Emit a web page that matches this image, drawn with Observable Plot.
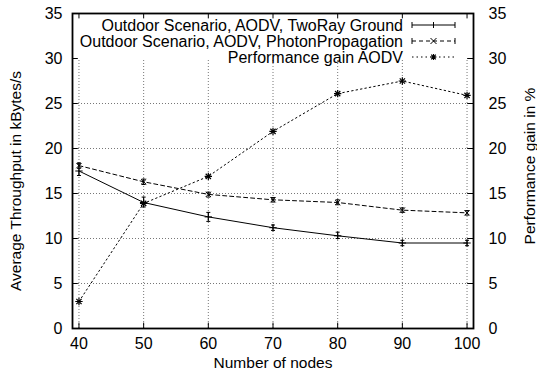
<!DOCTYPE html>
<html><head><meta charset="utf-8">
<script src="https://cdn.jsdelivr.net/npm/d3@7"></script>
<script src="https://cdn.jsdelivr.net/npm/@observablehq/plot@0.6"></script>
<style>
body{margin:0;background:#fff;}
#chart svg{font-family:"Liberation Sans",Arial,Helvetica,sans-serif;}
</style>
</head><body><div id="chart"></div>
<script>
const nodes = [40, 50, 60, 70, 80, 90, 100];
const twoRay = [17.5, 14.0, 12.4, 11.2, 10.3, 9.5, 9.5];
const twoRayLow = [17.0, 13.5, 11.9, 10.9, 10.0, 9.2, 9.2];
const twoRayHigh = [18.3, 14.6, 12.9, 11.5, 10.7, 9.8, 9.8];
const photon = [18.1, 16.3, 14.9, 14.3, 14.0, 13.15, 12.85];
const photonLow = [17.8, 16.0, 14.6, 14.05, 13.75, 12.9, 12.6];
const photonHigh = [18.4, 16.6, 15.15, 14.55, 14.3, 13.4, 13.1];
const gain = [3.0, 13.9, 16.9, 21.9, 26.1, 27.5, 25.9];
const xTicks = [40, 50, 60, 70, 80, 90, 100];
const yTicks = [0, 5, 10, 15, 20, 25, 30, 35];
const gridY = [5, 10, 15, 20, 25];
const legendLabels = [
  "Outdoor Scenario, AODV, TwoRay Ground",
  "Outdoor Scenario, AODV, PhotonPropagation",
  "Performance gain AODV"
];
const xLabel = "Number of nodes";
const yLabel = "Average Throughput in kBytes/s";
const y2Label = "Performance gain in %";

const rows = nodes.map((n, i) => ({
  n, tr: twoRay[i], trl: twoRayLow[i], trh: twoRayHigh[i],
  ph: photon[i], phl: photonLow[i], phh: photonHigh[i], g: gain[i]
}));

const cap = {draw(ctx, size) { const r = Math.sqrt(size / Math.PI); ctx.moveTo(-r, 0); ctx.lineTo(r, 0); }};
const FS = 16;
const TS = 15.5;

const plot = Plot.plot({
  width: 537, height: 380,
  marginLeft: 72, marginRight: 64, marginTop: 13, marginBottom: 52,
  style: {fontSize: FS + "px", fontFamily: "Liberation Sans, Arial, sans-serif", color: "#000", background: "#fff"},
  x: {domain: [39, 101]},
  y: {domain: [0, 35]},
  marks: [
    // grid
    Plot.ruleX(xTicks, {x: d => d, y1: 0, y2: 30, stroke: "#777", strokeDasharray: "1,2", strokeWidth: 1}),
    Plot.ruleY(gridY, {y: d => d, stroke: "#777", strokeDasharray: "1,2", strokeWidth: 1}),
    // inward ticks
    Plot.ruleY(yTicks, {y: d => d, x1: 39, x2: 39.9, stroke: "#000"}),
    Plot.ruleY(yTicks, {y: d => d, x1: 100.1, x2: 101, stroke: "#000"}),
    Plot.ruleX(xTicks, {x: d => d, y1: 0, y2: 0.6, stroke: "#000"}),
    Plot.ruleX(xTicks, {x: d => d, y1: 34.4, y2: 35, stroke: "#000"}),
    // axes labels
    Plot.axisY(yTicks, {anchor: "left", tickSize: 0, tickPadding: 10, label: null, fontSize: FS}),
    Plot.axisY(yTicks, {anchor: "right", tickSize: 0, tickPadding: 15, label: null, fontSize: FS}),
    Plot.axisX(xTicks, {anchor: "bottom", tickSize: 0, tickPadding: 9, label: null, fontSize: FS}),
    Plot.text([yLabel], {frameAnchor: "left", textAnchor: "middle", text: d => d, rotate: -90, dx: -56, dy: 10, fontSize: TS}),
    Plot.text([y2Label], {frameAnchor: "right", textAnchor: "middle", text: d => d, rotate: -90, dx: 57, dy: -5, fontSize: TS}),
    Plot.text([xLabel], {frameAnchor: "bottom", textAnchor: "middle", text: d => d, dy: 39, fontSize: TS}),
    // TwoRay series
    Plot.line(rows, {x: "n", y: "tr", stroke: "#000", strokeWidth: 1}),
    Plot.ruleX(rows, {x: "n", y1: "trl", y2: "trh", stroke: "#000", strokeWidth: 1}),
    Plot.dot(rows, {x: "n", y: "trl", symbol: cap, r: 2, fill: "none", stroke: "#000", strokeWidth: 1}),
    Plot.dot(rows, {x: "n", y: "trh", symbol: cap, r: 2, fill: "none", stroke: "#000", strokeWidth: 1}),
    Plot.dot(rows, {x: "n", y: "tr", symbol: "plus", r: 2.5, fill: "none", stroke: "#000", strokeWidth: 1}),
    // Photon series
    Plot.line(rows, {x: "n", y: "ph", stroke: "#000", strokeWidth: 1, strokeDasharray: "4,3"}),
    Plot.ruleX(rows, {x: "n", y1: "phl", y2: "phh", stroke: "#000", strokeWidth: 1}),
    Plot.dot(rows, {x: "n", y: "phl", symbol: cap, r: 2, fill: "none", stroke: "#000", strokeWidth: 1}),
    Plot.dot(rows, {x: "n", y: "phh", symbol: cap, r: 2, fill: "none", stroke: "#000", strokeWidth: 1}),
    Plot.dot(rows, {x: "n", y: "ph", symbol: "times", r: 2.5, fill: "none", stroke: "#000", strokeWidth: 1}),
    // Gain series
    Plot.line(rows, {x: "n", y: "g", stroke: "#000", strokeWidth: 1, strokeDasharray: "1.5,3"}),
    Plot.dot(rows, {x: "n", y: "g", symbol: "plus", r: 2.5, fill: "none", stroke: "#000", strokeWidth: 1.2}),
    Plot.dot(rows, {x: "n", y: "g", symbol: "times", r: 2.5, fill: "none", stroke: "#000", strokeWidth: 1.2}),
    Plot.frame({stroke: "#000", strokeWidth: 1.8})
  ]
});
document.getElementById("chart").append(plot);

// legend (inside the frame, top right)
const svg = d3.select(plot);
const lg = svg.append("g").attr("font-size", FS).attr("fill", "#000");
const rowY = [25, 41, 57];
const textRight = 403, s0 = 412, s1 = 455;
const dashes = [null, "4,3", "1.5,3"];
legendLabels.forEach((lab, i) => {
  const y = rowY[i];
  lg.append("text").attr("x", textRight).attr("y", y).attr("dy", "0.35em").attr("text-anchor", "end").text(lab);
  lg.append("line").attr("x1", s0).attr("x2", s1).attr("y1", y).attr("y2", y)
    .attr("stroke", "#000").attr("stroke-dasharray", dashes[i]);
  const m = (s0 + s1) / 2;
  if (i === 0) {
    lg.append("path").attr("d", `M${s0},${y-3}V${y+3}M${s1},${y-3}V${y+3}M${m},${y-3}V${y+3}`).attr("stroke", "#000");
  } else if (i === 1) {
    lg.append("path").attr("d", `M${s0},${y-3}V${y+3}M${s1},${y-3}V${y+3}M${m-3},${y-3}L${m+3},${y+3}M${m-3},${y+3}L${m+3},${y-3}`).attr("stroke", "#000");
  } else {
    lg.append("path").attr("d", `M${m-3},${y}H${m+3}M${m},${y-3}V${y+3}M${m-2.3},${y-2.3}L${m+2.3},${y+2.3}M${m-2.3},${y+2.3}L${m+2.3},${y-2.3}`).attr("stroke", "#000").attr("stroke-width", 1.2);
  }
});
</script>
</body></html>
